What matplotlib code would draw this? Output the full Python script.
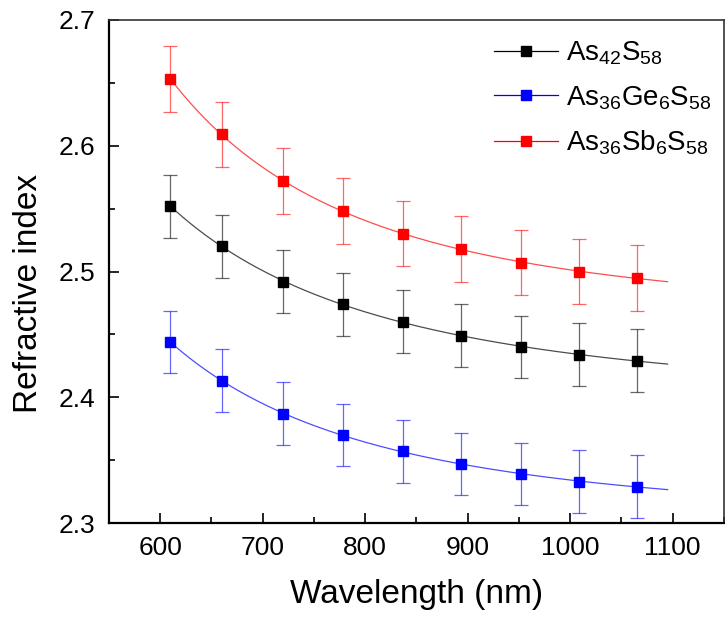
import numpy as np
import matplotlib
matplotlib.use('Agg')
import matplotlib.pyplot as plt
from matplotlib.ticker import MultipleLocator

plt.rcParams['font.family'] = ['Liberation Sans', 'DejaVu Sans']
plt.rcParams['mathtext.default'] = 'regular'

# data
wavelength = [610, 660, 720, 778, 837, 893, 952, 1009, 1065]
n_as42s58 = [2.552, 2.520, 2.492, 2.474, 2.460, 2.449, 2.440, 2.434, 2.429]
n_as36ge6s58 = [2.444, 2.413, 2.387, 2.370, 2.357, 2.347, 2.339, 2.333, 2.329]
n_as36sb6s58 = [2.653, 2.609, 2.572, 2.548, 2.530, 2.518, 2.507, 2.500, 2.495]
err_as42s58 = [0.025] * 9
err_as36ge6s58 = [0.025] * 9
err_as36sb6s58 = [0.026] * 9
labels = ['As$_{42}$S$_{58}$', 'As$_{36}$Ge$_{6}$S$_{58}$', 'As$_{36}$Sb$_{6}$S$_{58}$']
fit_end = 1095

series = [
    (n_as42s58, err_as42s58, 'black'),
    (n_as36ge6s58, err_as36ge6s58, 'blue'),
    (n_as36sb6s58, err_as36sb6s58, 'red'),
]

fig = plt.figure(figsize=(7.25, 6.19), dpi=100)
ax = fig.add_axes([0.1503, 0.155, 0.8483, 0.8127])

wl = np.array(wavelength, dtype=float)
wl_fit = np.linspace(wl[0], fit_end, 300)
handles = []
for (n, err, color), label in zip(series, labels):
    # Cauchy-type fit n = A + B/l^2 + C/l^4 through the points
    coef = np.polyfit(1 / wl ** 2, n, 2)
    ax.plot(wl_fit, np.polyval(coef, 1 / wl_fit ** 2), color=color, lw=0.9, alpha=0.7)
    ax.errorbar(wl, n, yerr=err, fmt='none', ecolor=color, elinewidth=0.9,
                capsize=5, capthick=0.9, alpha=0.6)
    ax.plot(wl, n, 's', color=color, ms=7)
    h, = ax.plot([], [], '-s', color=color, ms=7, lw=0.9, label=label)
    handles.append(h)

ax.set_xlim(550, 1150)
ax.set_ylim(2.3, 2.7)
ax.xaxis.set_major_locator(MultipleLocator(100))
ax.xaxis.set_minor_locator(MultipleLocator(50))
ax.yaxis.set_major_locator(MultipleLocator(0.1))
ax.yaxis.set_minor_locator(MultipleLocator(0.05))
ax.yaxis.set_major_formatter(matplotlib.ticker.FormatStrFormatter('%.1f'))
ax.tick_params(which='both', direction='in', top=False, right=False, width=1.2)
ax.tick_params(which='major', length=7, labelsize=19)
ax.tick_params(axis='x', which='major', pad=9)
ax.tick_params(axis='y', which='major', pad=10)
ax.tick_params(which='minor', length=4)
for side in ['left', 'bottom']:
    ax.spines[side].set_linewidth(1.6)
for side in ['top', 'right']:
    ax.spines[side].set_linewidth(1.2)
    ax.spines[side].set_color('#333333')

ax.set_xlabel('Wavelength (nm)', fontsize=24, labelpad=14)
ax.set_ylabel('Refractive index', fontsize=24)
ax.yaxis.set_label_coords(-0.105, 0.457)

ax.legend(handles=handles, loc='upper left', bbox_to_anchor=(0.585, 1.01), frameon=False,
          fontsize=20, handlelength=2.3, handletextpad=0.3, labelspacing=0.6)

fig.savefig('out.png', dpi=100)
